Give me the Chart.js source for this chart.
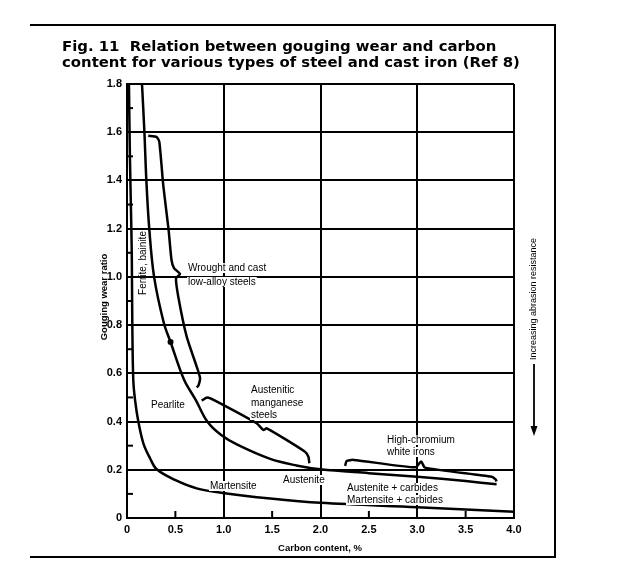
<!DOCTYPE html>
<html>
<head>
<meta charset="utf-8">
<script src="https://cdn.jsdelivr.net/npm/chart.js@4.4.0/dist/chart.umd.min.js"></script>
<style>
  html, body { margin: 0; padding: 0; background: #fff; }
</style>
</head>
<body>
<canvas id="wearChart" width="630" height="588"></canvas>
<script>
// axis ticks
const xMinorTicks = [0.5, 1.5, 2.5, 3.5];
const yMinorTicks = [0.1, 0.3, 0.5, 0.7, 0.9, 1.1, 1.3, 1.5, 1.7];

// curves (carbon %, gouging wear ratio)
const martensiteX = [0.02, 0.03, 0.045, 0.05, 0.055, 0.065, 0.083, 0.117, 0.169, 0.238, 0.307, 0.496, 0.72, 0.972, 1.48, 2.0, 3.0, 4.0];
const martensiteY = [1.8, 1.5, 1.2, 1.07, 0.8, 0.573, 0.49, 0.40, 0.31, 0.248, 0.202, 0.158, 0.123, 0.105, 0.081, 0.063, 0.045, 0.026];

const pearliteX = [0.155, 0.18, 0.20, 0.23, 0.28, 0.38, 0.45, 0.59, 0.71, 0.83, 0.97, 1.14, 1.48, 1.75, 2.0, 2.5, 3.0, 3.5, 3.82];
const pearliteY = [1.8, 1.6, 1.4, 1.2, 1.0, 0.81, 0.73, 0.573, 0.49, 0.40, 0.345, 0.304, 0.245, 0.218, 0.202, 0.186, 0.171, 0.153, 0.14];

const dotX = [0.45];
const dotY = [0.73];

// braces
const lowAlloyX = [0.22, 0.307, 0.334, 0.376, 0.43, 0.46, 0.486, 0.548, 0.507, 0.53, 0.617, 0.72, 0.755, 0.737, 0.72];
const lowAlloyY = [1.585, 1.58, 1.56, 1.375, 1.195, 1.07, 1.036, 1.012, 0.995, 0.918, 0.752, 0.628, 0.58, 0.548, 0.542];

const manganeseX = [0.772, 0.83, 0.91, 1.34, 1.41, 1.445, 1.84, 1.875, 1.885];
const manganeseY = [0.487, 0.50, 0.487, 0.393, 0.365, 0.372, 0.275, 0.254, 0.227];

const chromiumX = [2.254, 2.27, 2.34, 2.98, 3.04, 3.08, 3.77, 3.81, 3.82];
const chromiumY = [0.216, 0.236, 0.241, 0.21, 0.234, 0.209, 0.171, 0.16, 0.151];

function toPoints(xs, ys) {
  return xs.map((x, i) => ({ x: x, y: ys[i] }));
}

function curve(xs, ys, tension) {
  return {
    type: 'line',
    data: toPoints(xs, ys),
    borderColor: '#000',
    borderWidth: 2.5,
    pointRadius: 0,
    tension: tension,
    fill: false
  };
}

// labels placed inside the figure
const labels = [
  { text: 'Wrought and cast', x: 188, y: 268 },
  { text: 'low-alloy steels', x: 188, y: 282 },
  { text: 'Pearlite', x: 151, y: 405 },
  { text: 'Austenitic', x: 251, y: 390 },
  { text: 'manganese', x: 251, y: 403 },
  { text: 'steels', x: 251, y: 415 },
  { text: 'Martensite', x: 210, y: 486 },
  { text: 'Austenite', x: 283, y: 480 },
  { text: 'High-chromium', x: 387, y: 440 },
  { text: 'white irons', x: 387, y: 452 },
  { text: 'Austenite + carbides', x: 347, y: 488 },
  { text: 'Martensite + carbides', x: 347, y: 500 }
];

const figurePlugin = {
  id: 'figure',
  beforeDraw(chart) {
    const c = chart.ctx;
    c.save();
    c.fillStyle = '#fff';
    c.fillRect(0, 0, chart.width, chart.height);
    c.restore();
  },
  afterDatasetsDraw(chart) {
    const c = chart.ctx;
    c.save();
    c.font = '10px "Liberation Sans", Arial, sans-serif';
    c.textBaseline = 'middle';
    c.textAlign = 'left';
    // white boxes behind the labels, as in the print
    c.fillStyle = '#fff';
    labels.forEach(l => {
      const w = c.measureText(l.text).width;
      c.fillRect(l.x - 1, l.y - 5, w + 2, 10);
    });
    c.fillStyle = '#000';
    labels.forEach(l => c.fillText(l.text, l.x, l.y));
    c.restore();
  },
  afterDraw(chart) {
    const c = chart.ctx;
    const xs = chart.scales.x;
    const ys = chart.scales.y;
    c.save();
    c.strokeStyle = '#000';
    c.fillStyle = '#000';

    // minor ticks pointing into the plot
    c.lineWidth = 2;
    xMinorTicks.forEach(v => {
      const px = xs.getPixelForValue(v);
      c.beginPath();
      c.moveTo(px, ys.bottom);
      c.lineTo(px, ys.bottom - 7);
      c.stroke();
    });
    yMinorTicks.forEach(v => {
      const py = ys.getPixelForValue(v);
      c.beginPath();
      c.moveTo(xs.left, py);
      c.lineTo(xs.left + 6, py);
      c.stroke();
    });

    // frame
    c.lineWidth = 2;
    c.beginPath();
    c.moveTo(30, 25); c.lineTo(555, 25); c.lineTo(555, 557); c.lineTo(30, 557);
    c.stroke();

    // title
    c.textBaseline = 'middle';
    c.textAlign = 'left';
    const line1 = 'Fig. 11  Relation between gouging wear and carbon';
    const line2 = 'content for various types of steel and cast iron (Ref 8)';
    c.font = 'bold 13px "DejaVu Sans"';
    const w2 = c.measureText(line2).width;
    const size = 13 * 458 / w2;
    c.font = 'bold ' + size.toFixed(2) + 'px "DejaVu Sans"';
    c.fillText(line1, 62, 47);
    c.fillText(line2, 62, 63);

    c.font = '10px "Liberation Sans", Arial, sans-serif';
    c.save();
    c.translate(143, 263);
    c.rotate(-Math.PI / 2);
    c.textAlign = 'center';
    c.fillText('Ferrite, bainite', 0, 0);
    c.restore();

    c.save();
    c.translate(104, 297);
    c.rotate(-Math.PI / 2);
    c.textAlign = 'center';
    c.font = 'bold 9.5px "Liberation Sans", Arial, sans-serif';
    c.fillText('Gouging wear ratio', 0, 0);
    c.restore();

    c.textAlign = 'center';
    c.font = 'bold 9.5px "Liberation Sans", Arial, sans-serif';
    c.fillText('Carbon content, %', 320, 548);

    c.save();
    c.translate(534, 299);
    c.rotate(-Math.PI / 2);
    c.font = '9px "Liberation Sans Narrow", "Liberation Sans", sans-serif';
    c.fillText('Increasing abrasion resistance', 0, 0);
    c.restore();

    // arrow
    c.lineWidth = 1.8;
    c.beginPath();
    c.moveTo(534, 364);
    c.lineTo(534, 428);
    c.stroke();
    c.beginPath();
    c.moveTo(530.5, 426);
    c.lineTo(537.5, 426);
    c.lineTo(534, 436);
    c.closePath();
    c.fill();

    c.restore();
  }
};

new Chart(document.getElementById('wearChart'), {
  type: 'line',
  data: {
    datasets: [
      curve(martensiteX, martensiteY, 0.35),
      curve(pearliteX, pearliteY, 0.35),
      curve(lowAlloyX, lowAlloyY, 0.2),
      curve(manganeseX, manganeseY, 0.2),
      curve(chromiumX, chromiumY, 0.2),
      {
        type: 'scatter',
        data: toPoints(dotX, dotY),
        pointRadius: 3,
        pointBackgroundColor: '#000',
        pointBorderWidth: 0
      }
    ]
  },
  options: {
    responsive: false,
    animation: false,
    layout: { padding: { left: 0, top: 84, right: 116, bottom: 0 } },
    plugins: {
      legend: { display: false },
      tooltip: { enabled: false }
    },
    scales: {
      x: {
        type: 'linear',
        min: 0,
        max: 4,
        afterFit: s => { s.height = 70; },
        ticks: {
          stepSize: 0.5,
          padding: 5,
          color: '#000',
          font: { family: '"Liberation Sans Narrow", "Liberation Sans", sans-serif', size: 11, weight: 'bold' },
          callback: v => (v === 0 ? '0' : v.toFixed(1))
        },
        grid: {
          drawTicks: false,
          lineWidth: 2,
          color: ctx => (ctx.tick && Math.round(ctx.tick.value * 2) % 2 === 0 ? '#000' : 'rgba(0,0,0,0)')
        },
        border: { display: true, color: '#000', width: 2 }
      },
      y: {
        min: 0,
        max: 1.8,
        afterFit: s => { s.width = 127; },
        ticks: {
          stepSize: 0.1,
          padding: 5,
          color: '#000',
          font: { family: '"Liberation Sans Narrow", "Liberation Sans", sans-serif', size: 11, weight: 'bold' },
          callback: v => {
            const t = Math.round(v * 10);
            if (t % 2 !== 0) return '';
            return t === 0 ? '0' : (t / 10).toFixed(1);
          }
        },
        grid: {
          drawTicks: false,
          lineWidth: 2,
          color: ctx => (ctx.tick && Math.round(ctx.tick.value * 10) % 2 === 0 ? '#000' : 'rgba(0,0,0,0)')
        },
        border: { display: true, color: '#000', width: 2 }
      }
    }
  },
  plugins: [figurePlugin]
});
</script>
</body>
</html>
